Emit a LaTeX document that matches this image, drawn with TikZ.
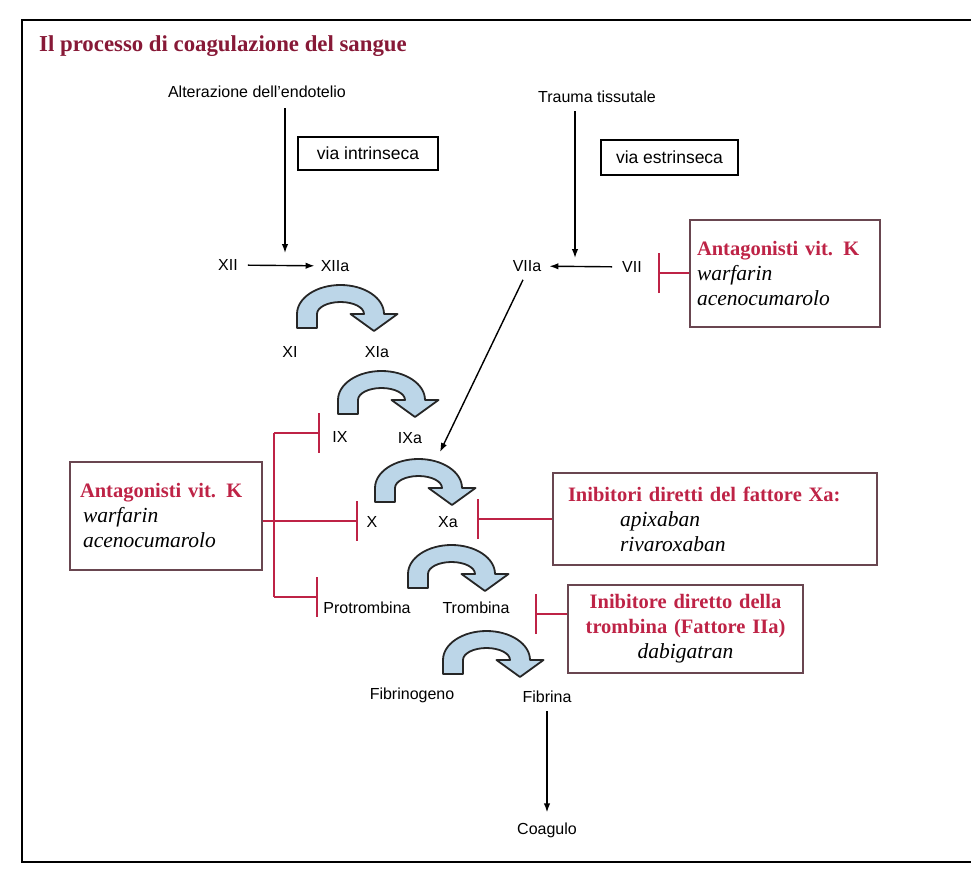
\documentclass[tikz,border=0pt]{standalone}
\usepackage{fontspec}
\setmainfont{Liberation Serif}
\setsansfont{Liberation Sans}
\usetikzlibrary{arrows.meta,calc}
\definecolor{titred}{RGB}{135,25,55}
\definecolor{inhred}{RGB}{190,35,70}
\definecolor{boxgray}{RGB}{105,70,80}
\definecolor{curvfill}{RGB}{188,214,232}
\tikzset{
  lab/.style={font=\sffamily\fontsize{16}{19}\selectfont,inner sep=2pt},
  arr/.style={line width=1.4pt,-{Latex[length=9pt,width=6.5pt]}},
  inh/.style={draw=inhred,line width=1.6pt,-{Bar[width=40pt,line width=2pt]}},
  redl/.style={draw=inhred,line width=1.6pt},
  curv/.style={draw=black!85,line width=1.8pt,fill=curvfill,line join=round},
  drug/.style={draw=boxgray,line width=1.3pt,inner sep=0pt,font=\fontsize{20.5}{25}\selectfont},
  via/.style={draw=black,line width=1.6pt,font=\sffamily\fontsize{17.5}{20}\selectfont,inner sep=0pt}
}
\newcommand\dtitle[1]{{\color{inhred}\bfseries #1}}
\newcommand\dname[1]{{\fontsize{21.5}{25}\selectfont\itshape #1}}
\begin{document}
\begin{tikzpicture}[x=1pt,y=-1pt]
  \useasboundingbox (0,0) rectangle (971,872);
  \draw[line width=2.4pt] (975,20) -- (22,20) -- (22,862) -- (975,862);
  \node[anchor=west,font=\bfseries\fontsize{22.8}{26}\selectfont,text=titred,inner sep=0pt] (tit) at (39,46) {Il processo di coagulazione del sangue};
  \path
  (285,253) coordinate (intr)
  (575,258) coordinate (extr)
  (440,452) coordinate (inIXa)
  (658,273) coordinate (bVII)
  (274,433) coordinate (tA) (320,433) coordinate (bIX)
  (274,521) coordinate (tB) (358,521) coordinate (bX)
  (274,597) coordinate (tC) (318,597) coordinate (bPro)
  (477,519) coordinate (bXa)
  (535,614) coordinate (bTro)
  ;
  % factors
  \foreach \n/\t/\px/\py in {endo/Alterazione dell’endotelio/257/92, trauma/Trauma tissutale/597/97,
      XII/XII/228/265, XIIa/XIIa/335/266, VIIa/VIIa/527/266, VII/VII/632/267,
      XI/XI/290/352, XIa/XIa/377/352, IX/IX/340/437, IXa/IXa/410/438,
      X/X/372/522, Xa/Xa/448/522, Pro/Protrombina/367/608, Tro/Trombina/476/608,
      Fgen/Fibrinogeno/412/695, Fina/Fibrina/547/697, Coag/Coagulo/547/830}
    \node[lab] (\n) at (\px,\py) {\t};
  \node[via,minimum width=140pt,minimum height=33pt] (vint) at (368,153.5) {via intrinseca};
  \node[via,minimum width=137pt,minimum height=35pt] (vest) at (669.5,157.5) {via estrinseca};
  % drug boxes
  \node[drug,minimum width=190pt,minimum height=107pt,text width=176pt,align=left] (antK1) at (785,273.5)
    {\dtitle{Antagonisti vit. K}\\ \dname{warfarin}\\ \dname{acenocumarolo}};
  \node[drug,minimum width=192pt,minimum height=108pt,text width=172pt,align=left] (antK2) at (166,516)
    {\dtitle{Antagonisti vit. K}\\ \hspace*{3pt}\dname{warfarin}\\ \hspace*{3pt}\dname{acenocumarolo}};
  \node[drug,minimum width=324pt,minimum height=92pt,text width=294pt,align=left] (inXa) at (715,519)
    {\dtitle{Inibitori diretti del fattore Xa:}\\ \hspace*{52pt}\dname{apixaban}\\ \hspace*{52pt}\dname{rivaroxaban}};
  \node[drug,minimum width=235pt,minimum height=88pt,text width=220pt,align=center] (inIIa) at (685.5,629)
    {\dtitle{Inibitore diretto della}\\ \dtitle{trombina (Fattore IIa)}\\ \dname{dabigatran}};
  % black arrows
  \draw[arr,shorten <=8pt] (intr |- endo.south) -- (intr);
  \draw[arr,shorten <=6pt] (extr |- trauma.south) -- (extr);
  \draw[arr,shorten <=8pt,shorten >=4pt] (XII) -- (XIIa);
  \draw[arr,shorten <=8pt,shorten >=6pt] (VII) -- (VIIa);
  \draw[arr] ($(VIIa.south)+(-4,6)$) -- (inIXa);
  \draw[arr,shorten <=6pt,shorten >=8pt] (Fina) -- (Coag);
  % curved block arrows (left edge / top)
  \foreach \l/\t in {297/285,338/371,375/459,408/545,443/631}
    \filldraw[curv,shift={(\l+43.5,\t+29)}] (-43.5,14) -- (-43.5,0)
      arc[start angle=180,end angle=360,x radius=43.5,y radius=29]
      -- (57,0) -- (33.5,17) -- (10,0) -- (23.5,0)
      arc[start angle=360,end angle=180,x radius=23.5,y radius=12]
      -- (-23.5,14) -- cycle;
  % inhibitions
  \draw[inh] (antK1.west |- bVII) -- (bVII);
  \draw[redl] (tB -| antK2.east) -- (tB) (tA) -- (tC);
  \foreach \s/\e in {tA/bIX,tB/bX,tC/bPro}
    \draw[inh] (\s) -- (\e);
  \draw[inh] (inXa.west |- bXa) -- (bXa);
  \draw[inh] (inIIa.west |- bTro) -- (bTro);
\end{tikzpicture}
\end{document}
